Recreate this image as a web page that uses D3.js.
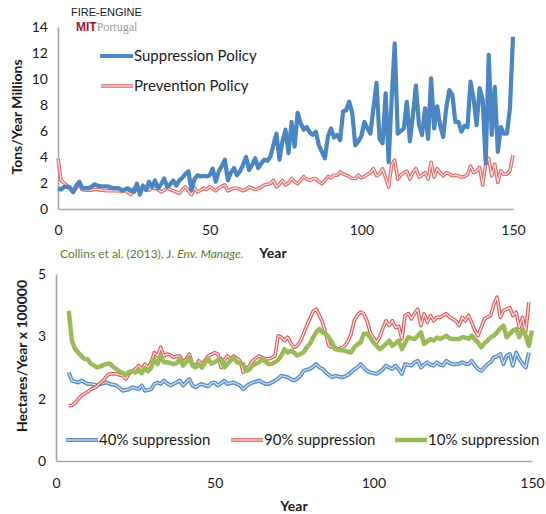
<!DOCTYPE html>
<html>
<head>
<meta charset="utf-8">
<script src="https://cdn.jsdelivr.net/npm/d3@7"></script>
<style>
  body { margin: 0; background: #fff; }
  svg text { font-family: Lato, "Open Sans", sans-serif; fill: #1a1a1a; }
</style>
</head>
<body>
<svg id="chart" width="546" height="514"></svg>
<script>
// top panel: tons/year (millions), years 0..150
var topYears = d3.range(0, 151);
var suppression = [
  1.6, 1.5, 1.7, 1.7, 1.6, 1.3, 1.8, 2.1, 1.6, 1.6,
  1.6, 1.7, 1.9, 1.8, 1.75, 1.75, 1.75, 1.7, 1.6, 1.6,
  1.6, 1.45, 1.5, 1.6, 1.45, 1.3, 1.95, 1.1, 1.8, 1.45,
  2.1, 1.7, 2.2, 1.6, 1.9, 2.35, 1.7, 1.9, 2.2, 1.8,
  2.2, 2.4, 2.7, 2.9, 1.45, 2.3, 2.6, 2.5, 2.55, 2.5,
  2.6, 3.1, 2.1, 2.9, 3.3, 3.8, 2.2, 2.8, 3.15, 2.6,
  2.9, 3.4, 4.0, 3.0, 3.4, 3.9, 3.15, 3.5, 3.8, 3.7,
  4.0, 4.9, 5.8, 3.8, 5.2, 6.1, 4.3, 6.7, 4.8, 7.4,
  6.6, 6.1, 6.3, 5.9, 5.7, 5.95, 4.9, 4.4, 3.9, 5.6,
  6.2, 5.5, 5.7, 5.3, 7.5, 7.6, 8.25, 7.4, 4.9, 5.2,
  5.6, 6.7, 6.2, 5.8, 7.8, 9.7, 5.4, 5.05, 8.9, 3.6,
  8.5, 12.75, 5.8, 6.0, 6.2, 8.25, 5.2, 7.2, 9.5, 6.5,
  5.7, 7.75, 5.4, 10.05, 6.2, 7.9, 6.4, 5.55, 7.8, 9.15,
  8.8, 6.7, 6.7, 5.95, 6.4, 6.3, 9.8, 8.5, 6.45, 9.3,
  8.4, 3.5, 11.85, 5.7, 9.4, 4.4, 6.3, 5.8, 5.8, 7.75,
  13.25
];
var prevention = [
  3.9, 2.2, 2.0, 1.8, 1.7, 1.3, 1.6, 1.9, 1.5, 1.45,
  1.45, 1.45, 1.5, 1.5, 1.45, 1.45, 1.4, 1.4, 1.4, 1.4,
  1.4, 1.35, 1.4, 1.3, 1.1, 1.6, 1.5, 1.3, 1.7, 1.5,
  1.45, 1.6, 1.6, 1.5, 1.3, 1.45, 1.6, 1.5, 1.4, 1.3,
  1.2, 1.5, 1.7, 1.4, 1.1, 1.6, 1.3, 1.45, 1.6, 1.5,
  1.7, 1.55, 1.4, 1.6, 1.75, 1.85, 1.4, 1.5, 1.6, 1.6,
  1.5, 1.4, 1.5, 1.7, 1.6, 1.5, 1.55, 1.7, 1.85, 1.9,
  1.95, 2.2, 1.7, 1.9, 2.2, 1.85, 2.0, 2.35, 2.1, 1.95,
  2.2, 2.5, 2.3, 2.2, 2.3, 2.35, 2.1, 1.95, 2.2, 2.5,
  2.4, 2.6, 2.6, 2.85, 2.7, 2.6, 2.5, 2.35, 2.35, 2.6,
  2.4, 2.5, 2.65, 2.8, 3.1, 2.55, 2.7, 3.1, 2.4, 1.7,
  3.4, 3.75, 2.3, 2.6, 2.8, 2.9, 2.3, 2.8, 3.1, 2.45,
  2.6, 2.8, 2.3, 3.6, 2.45, 3.1, 2.8, 2.55, 2.8, 2.7,
  2.55, 2.6, 2.55, 2.45, 2.5, 2.65, 3.3, 2.8, 2.9, 3.2,
  1.85, 3.45, 3.9, 2.55, 3.45, 2.05, 2.95, 2.65, 2.7, 2.95,
  4.15
];
var topYTicks = [0, 2, 4, 6, 8, 10, 12, 14];
var xTicks = [0, 50, 100, 150];

// bottom panel: hectares/year x 100000, years 4..150
var botYears = d3.range(4, 151);
var supp40 = [
  2.37, 2.15, 2.12, 2.1, 2.15, 2.1, 2.06, 2.06, 2.04, 2.02,
  2.06, 2.08, 2.1, 2.06, 2.04, 2.02, 1.95, 1.88, 1.9, 1.92,
  1.97, 1.95, 1.92, 2.02, 1.88, 1.9, 1.92, 2.06, 2.1, 2.06,
  2.15, 2.08, 2.02, 2.06, 2.1, 2.15, 2.02, 2.1, 2.19, 2.02,
  1.97, 2.03, 2.06, 2.02, 2.0, 2.08, 2.1, 2.02, 2.08, 2.15,
  2.06, 2.08, 2.1, 2.06, 2.02, 1.92, 2.0, 2.06, 2.1, 2.12,
  2.15, 2.1, 2.06, 2.06, 2.1, 2.15, 2.2, 2.28, 2.26, 2.24,
  2.19, 2.15, 2.2, 2.28, 2.41, 2.44, 2.46, 2.52, 2.59, 2.5,
  2.46, 2.37, 2.3, 2.24, 2.28, 2.26, 2.24, 2.26, 2.3, 2.37,
  2.45, 2.5, 2.59, 2.5, 2.41, 2.37, 2.35, 2.33, 2.38, 2.45,
  2.55, 2.5, 2.46, 2.55, 2.45, 2.33, 2.59, 2.57, 2.55, 2.64,
  2.68, 2.5, 2.58, 2.64, 2.58, 2.55, 2.64, 2.58, 2.55, 2.68,
  2.62, 2.59, 2.59, 2.6, 2.64, 2.6, 2.59, 2.68, 2.55, 2.46,
  2.41, 2.5, 2.59, 2.64, 2.77, 2.8, 2.86, 2.59, 2.81, 2.86,
  2.55, 2.9, 2.73, 2.6, 2.5, 2.9
];
var supp90 = [
  1.48, 1.48, 1.55, 1.65, 1.75, 1.8, 1.85, 1.92, 1.95, 2.0,
  2.1, 2.15, 2.28, 2.33, 2.33, 2.33, 2.3, 2.28, 2.19, 2.33,
  2.4, 2.46, 2.55, 2.46, 2.59, 2.5, 2.64, 2.9, 2.81, 3.04,
  2.81, 2.86, 2.84, 2.77, 2.8, 2.81, 2.64, 2.73, 2.86, 2.59,
  2.55, 2.68, 2.59, 2.7, 2.81, 2.85, 2.9, 2.86, 2.5, 2.7,
  2.81, 2.73, 2.81, 2.75, 2.68, 2.37, 2.46, 2.55, 2.68, 2.75,
  2.81, 2.76, 2.73, 2.73, 2.76, 2.81, 3.35, 3.31, 3.22, 3.31,
  3.15, 3.04, 3.08, 3.2, 3.4, 3.62, 3.8, 4.0, 4.06, 3.89,
  3.71, 3.4, 3.08, 3.04, 3.02, 2.99, 3.03, 3.08, 3.2, 3.4,
  3.75, 3.9, 3.98, 3.94, 3.75, 3.44, 3.3, 3.17, 3.31, 3.55,
  3.75, 3.62, 3.75, 3.57, 3.6, 3.26, 3.89, 3.94, 3.8, 3.95,
  4.06, 3.62, 3.94, 3.71, 3.89, 3.75, 3.84, 3.84, 3.89, 3.94,
  3.85, 3.8, 3.75, 3.62, 3.84, 3.75, 3.89, 3.7, 3.49, 3.35,
  3.57, 3.8, 3.85, 3.89, 4.2, 4.38, 3.84, 4.02, 4.06, 4.1,
  3.89, 3.98, 3.57, 3.84, 3.44, 4.24
];
var supp10 = [
  4.02, 3.22, 3.0, 2.9, 2.8, 2.73, 2.72, 2.6, 2.55, 2.5,
  2.53, 2.57, 2.6, 2.6, 2.52, 2.46, 2.4, 2.35, 2.31, 2.38,
  2.4, 2.37, 2.43, 2.35, 2.48, 2.4, 2.5, 2.73, 2.59, 2.81,
  2.64, 2.64, 2.62, 2.59, 2.62, 2.73, 2.55, 2.64, 2.77, 2.55,
  2.5, 2.59, 2.5, 2.64, 2.73, 2.6, 2.64, 2.7, 2.73, 2.5,
  2.6, 2.68, 2.77, 2.64, 2.62, 2.59, 2.41, 2.45, 2.55, 2.6,
  2.64, 2.73, 2.66, 2.59, 2.6, 2.64, 2.7, 2.82, 2.99, 2.9,
  2.95, 2.9, 2.82, 2.86, 2.9, 3.04, 3.13, 3.3, 3.44, 3.53,
  3.44, 3.4, 3.3, 3.17, 2.99, 2.97, 2.96, 2.95, 2.92, 2.9,
  3.04, 3.12, 3.17, 3.4, 3.4, 3.3, 3.17, 3.08, 2.99, 3.05,
  3.13, 3.22, 3.08, 3.15, 3.22, 2.99, 3.15, 3.31, 3.28, 3.26,
  3.35, 3.44, 3.13, 3.2, 3.26, 3.22, 3.3, 3.26, 3.3, 3.35,
  3.28, 3.26, 3.26, 3.26, 3.31, 3.3, 3.26, 3.35, 3.25, 3.17,
  3.04, 3.15, 3.22, 3.31, 3.35, 3.44, 3.55, 3.62, 3.31, 3.4,
  3.49, 3.53, 3.31, 3.53, 3.35, 3.08, 3.49
];
var botYTicks = [0, 5 / 3, 10 / 3, 5];
var botYLabels = ["0", "2", "3", "5"];

var blue = "#4a86c2", red = "#d0504e", green = "#9bbb59", axisGray = "#a6a6a6";

var svg = d3.select("#chart");

// scales
var xTop = d3.scaleLinear().domain([0, 150]).range([58, 513]);
var yTop = d3.scaleLinear().domain([0, 14]).range([209, 27]);
var xBot = d3.scaleLinear().domain([0, 150]).range([56, 532]);
var yBot = d3.scaleLinear().domain([0, 5]).range([461, 274]);

function drawAxes(x, y, yTicks, yLabels, tickY) {
    var g = svg.append("g");
    var yAxis = d3.axisLeft(y).tickValues(yTicks).tickSize(0).tickPadding(10)
        .tickFormat(function(d, i) { return yLabels ? yLabels[i] : d; });
    var xAxis = d3.axisBottom(x).tickValues(xTicks).tickSize(0).tickPadding(tickY);
    var ya = g.append("g").attr("transform", "translate(" + x.range()[0] + ",0)").call(yAxis);
    var xa = g.append("g").attr("transform", "translate(0," + y.range()[0] + ")").call(xAxis);
    [ya, xa].forEach(function(a) {
        a.select(".domain").attr("stroke", axisGray).attr("stroke-width", 1.6);
        a.selectAll("text").style("font-size", "14px").attr("fill", "#1a1a1a");
    });
}

// solid or "double" (outlined) line
function drawSeries(x, y, years, values, color, width, inner) {
    var line = d3.line()
        .x(function(d, i) { return x(years[i]); })
        .y(function(d) { return y(d); });
    svg.append("path").datum(values).attr("d", line)
        .attr("fill", "none").attr("stroke", color).attr("stroke-width", width)
        .attr("stroke-linejoin", "round");
    if (inner) {
        svg.append("path").datum(values).attr("d", line)
            .attr("fill", "none").attr("stroke", inner).attr("stroke-width", 1.2)
            .attr("stroke-linejoin", "round");
    }
}

function legendItem(x1, x2, ly, label, color, width, inner) {
    svg.append("line").attr("x1", x1).attr("x2", x2).attr("y1", ly).attr("y2", ly)
        .attr("stroke", color).attr("stroke-width", width);
    if (inner) {
        svg.append("line").attr("x1", x1).attr("x2", x2).attr("y1", ly).attr("y2", ly)
            .attr("stroke", inner).attr("stroke-width", 1.2);
    }
    svg.append("text").attr("x", x2 + 1).attr("y", ly + 5)
        .style("font-size", "15px").text(label);
}

// ---- top panel
drawAxes(xTop, yTop, topYTicks, null, 16);
drawSeries(xTop, yTop, topYears, prevention, "#dd6f6d", 3.6, "#f8dede");
drawSeries(xTop, yTop, topYears, suppression, blue, 4.2, null);
legendItem(100, 133, 56, "Suppression Policy", blue, 4.2, null);
legendItem(101, 133, 86, "Prevention Policy", "#dd6f6d", 3.6, "#f8dede");

svg.append("text")
    .attr("transform", "translate(22,117) rotate(-90)")
    .attr("text-anchor", "middle")
    .style("font-size", "14px").style("font-weight", "bold")
    .text("Tons/Year Millions");

svg.append("text").attr("x", 273).attr("y", 258).attr("text-anchor", "middle")
    .style("font-size", "14px").style("font-weight", "bold").text("Year");

// logo
svg.append("text").attr("x", 71).attr("y", 16)
    .style("font-family", "Liberation Sans, Arial, sans-serif")
    .style("font-size", "11px").text("FIRE-ENGINE");
var logo = svg.append("text").attr("x", 76).attr("y", 31);
logo.append("tspan").style("font-family", "Liberation Sans, Arial, sans-serif")
    .style("font-weight", "bold").style("font-size", "12px").attr("fill", "#a3152e").text("MIT");
logo.append("tspan").style("font-family", "Liberation Serif, serif")
    .style("font-size", "12px").attr("fill", "#9a9a9a").text("Portugal");

// citation
var cite = svg.append("text").attr("x", 60).attr("y", 258)
    .style("font-size", "12px").attr("fill", "#5e7a2c");
cite.append("tspan").attr("fill", "#5e7a2c").text("Collins et al. (2013), J. ");
cite.append("tspan").attr("fill", "#5e7a2c").style("font-style", "italic").text("Env. Manage.");

// ---- bottom panel
drawAxes(xBot, yBot, botYTicks, botYLabels, 17);
drawSeries(xBot, yBot, botYears, supp40, "#5b8fc6", 4, "#cfe0f2");
drawSeries(xBot, yBot, botYears, supp90, "#d9605e", 3.6, "#fbe3e3");
drawSeries(xBot, yBot, botYears, supp10, green, 4.5, null);

legendItem(66, 98, 440, "40% suppression", "#5b8fc6", 4, "#cfe0f2");
legendItem(231, 263, 440, "90% suppression", "#d9605e", 3.6, "#fbe3e3");
legendItem(395, 427, 440, "10% suppression", green, 4.5, null);

svg.append("text")
    .attr("transform", "translate(27,356) rotate(-90)")
    .attr("text-anchor", "middle")
    .style("font-size", "14px").style("font-weight", "bold")
    .text("Hectares/Year x 100000");

svg.append("text").attr("x", 294).attr("y", 511).attr("text-anchor", "middle")
    .style("font-size", "14px").style("font-weight", "bold").text("Year");
</script>
</body>
</html>
